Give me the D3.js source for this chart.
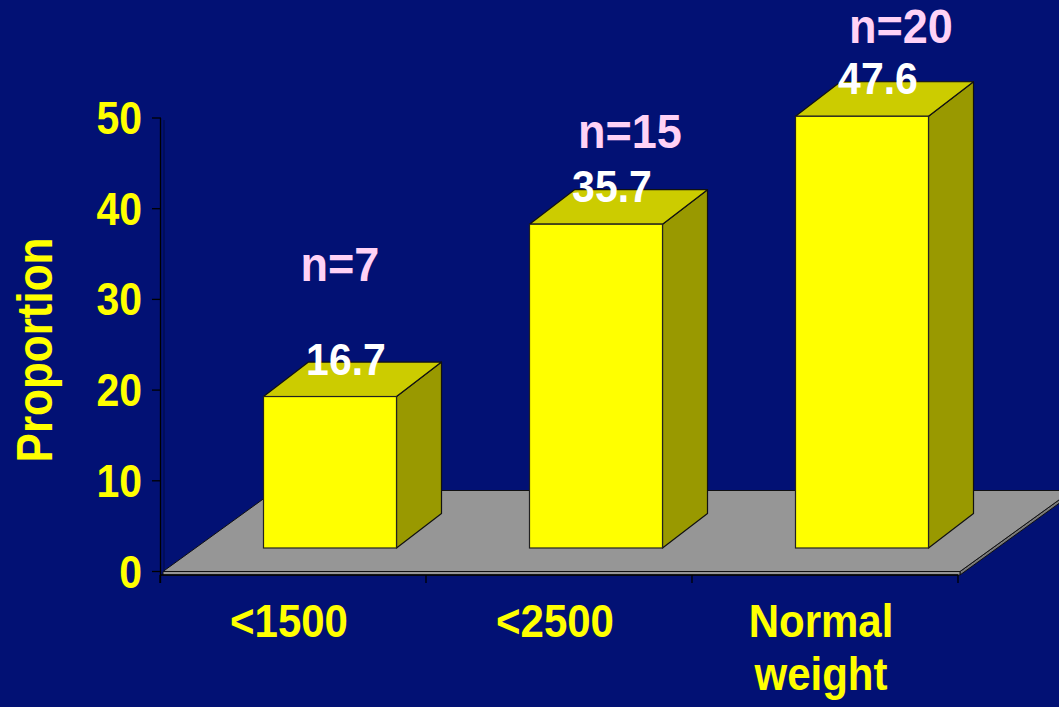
<!DOCTYPE html>
<html>
<head>
<meta charset="utf-8">
<script src="https://cdn.jsdelivr.net/npm/d3@7/dist/d3.min.js"></script>
<style>
  html, body { margin: 0; padding: 0; background: #021174; }
  svg { display: block; }
  text { font-family: "Liberation Sans", Arial, sans-serif; font-weight: bold; }
</style>
</head>
<body>
<svg id="chart" width="1059" height="707"></svg>
<script>
// Birth-weight groups and the proportion observed in each
const categories = ["<1500", "<2500", "Normal weight"];
const categoryLines = [["<1500"], ["<2500"], ["Normal", "weight"]];
const proportions = [16.7, 35.7, 47.6];
const sampleSizes = [7, 15, 20];
const yTicks = [0, 10, 20, 30, 40, 50];

// Free-floating "n=" annotations, offset from each bar's value label
const nLabelOffsets = [[-6, -94], [18, -54], [23, -51]];

const W = 1059, H = 707;
const svg = d3.select("#chart");

const y = d3.scaleLinear().domain([0, 50]).range([571.5, 118]);
const x = d3.scaleBand().domain(categories).range([160, 958])
  .paddingInner(0.5).paddingOuter(0.25);
const step = x.step();

// oblique projection vectors (screen px)
const floorDepth = [112, -81];   // full depth of the floor
const barFront = [37, -23.5];    // where bar front faces sit
const barDepth = [45, -34.5];    // depth of each bar

const pts = a => a.map(p => p.join(",")).join(" ");

// ---- floor slab ----
const fx0 = 163, fx1 = 960, fy = y(0), thick = 3.5;
const floor = svg.append("g");
floor.append("polygon")
  .attr("points", pts([[fx1, fy], [fx1 + floorDepth[0], fy + floorDepth[1]],
    [fx1 + floorDepth[0], fy + floorDepth[1] + thick], [fx1, fy + thick]]))
  .attr("fill", "#7a7a7a").attr("stroke", "#111").attr("stroke-width", 1);
floor.append("polygon")
  .attr("points", pts([[fx0, fy], [fx1, fy], [fx1, fy + thick], [fx0, fy + thick]]))
  .attr("fill", "#969696").attr("stroke", "#111").attr("stroke-width", 1);
floor.append("polygon")
  .attr("points", pts([[fx0, fy], [fx1, fy], [fx1 + floorDepth[0], fy + floorDepth[1]],
    [fx0 + floorDepth[0], fy + floorDepth[1]]]))
  .attr("fill", "#969696").attr("stroke", "#111").attr("stroke-width", 1);

// ---- value axis ----
const axisG = svg.append("g");
axisG.append("line").attr("x1", 164).attr("x2", 164).attr("y1", y(50) + 2).attr("y2", y(0))
  .attr("stroke", "#000a40").attr("stroke-width", 1);
axisG.append("line").attr("x1", 160.5).attr("x2", 160.5).attr("y1", y(50)).attr("y2", 583)
  .attr("stroke", "#000").attr("stroke-width", 1.3);
axisG.selectAll("line.tick").data(yTicks).join("line")
  .attr("class", "tick")
  .attr("x1", 152).attr("x2", 161).attr("y1", d => y(d)).attr("y2", d => y(d))
  .attr("stroke", "#000").attr("stroke-width", 1.3);

function stretched(g, tx, ty, txt, size, sy, anchor, fill) {
  return g.append("text")
    .attr("transform", `translate(${tx},${ty}) scale(1,${sy})`)
    .attr("text-anchor", anchor)
    .attr("font-size", size)
    .attr("fill", fill)
    .text(txt);
}

yTicks.forEach(t => {
  stretched(axisG, 142, y(t) + 16, String(t), 41, 1.12, "end", "#ffff00");
});

// axis title
svg.append("text")
  .attr("transform", "translate(52,350) rotate(-90) scale(1,1.15)")
  .attr("text-anchor", "middle")
  .attr("font-size", 44)
  .attr("fill", "#ffff00")
  .text("Proportion");

// ---- category axis ----
const catG = svg.append("g");
catG.append("line").attr("x1", 160).attr("x2", 958).attr("y1", 575).attr("y2", 575)
  .attr("stroke", "#000").attr("stroke-width", 1.3);
d3.range(categories.length + 1).forEach(i => {
  const tx = 160 + i * step;
  catG.append("line").attr("x1", tx).attr("x2", tx).attr("y1", 575).attr("y2", 583)
    .attr("stroke", "#000").attr("stroke-width", 1.3);
});
categories.forEach((c, i) => {
  const cx = x(c) + x.bandwidth() / 2 - 4;
  categoryLines[i].forEach((line, j) => {
    stretched(catG, cx, 637 + j * 53, line, 42, 1.1, "middle", "#ffff00");
  });
});

// ---- bars ----
const barsG = svg.append("g");
const labelsG = svg.append("g");
categories.forEach((c, i) => {
  const v = proportions[i];
  const x0 = x(c) + barFront[0], x1 = x0 + x.bandwidth();
  const yb = y(0) + barFront[1], yt = y(v) + barFront[1];
  const [dx, dy] = barDepth;
  const g = barsG.append("g");
  // side face
  g.append("polygon")
    .attr("points", pts([[x1, yt], [x1 + dx, yt + dy], [x1 + dx, yb + dy], [x1, yb]]))
    .attr("fill", "#999900").attr("stroke", "#111").attr("stroke-width", 1.2)
    .attr("stroke-linejoin", "round");
  // top face
  g.append("polygon")
    .attr("points", pts([[x0, yt], [x1, yt], [x1 + dx, yt + dy], [x0 + dx, yt + dy]]))
    .attr("fill", "#cccc00").attr("stroke", "#111").attr("stroke-width", 1.2)
    .attr("stroke-linejoin", "round");
  // front face
  g.append("rect")
    .attr("x", x0).attr("y", yt).attr("width", x1 - x0).attr("height", yb - yt)
    .attr("fill", "#ffff00").attr("stroke", "#222").attr("stroke-width", 1.2);

  // value label
  const lx = (x0 + x1) / 2 + 16, ly = yt - 22;
  stretched(labelsG, lx, ly, v.toFixed(1), 41, 1.1, "middle", "#ffffff");
  // sample size annotation
  const [ox, oy] = nLabelOffsets[i];
  stretched(labelsG, lx + ox, ly + oy, "n=" + sampleSizes[i], 45, 1.06, "middle", "#ffd2f6");
});
</script>
</body>
</html>
